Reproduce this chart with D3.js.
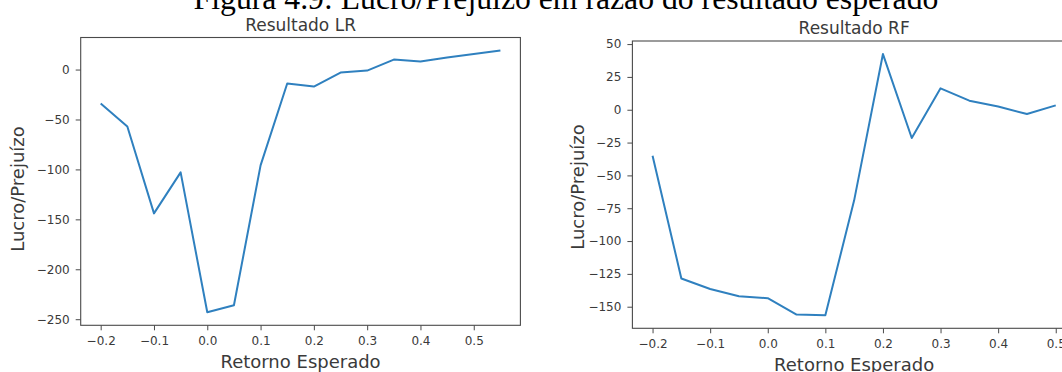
<!DOCTYPE html>
<html><head><meta charset="utf-8">
<script src="https://cdn.jsdelivr.net/npm/d3@7"></script>
<style>body{margin:0;background:#fff;} svg{display:block;}</style>
</head><body>
<svg id="c" width="1062" height="372"></svg>
<script>
// ---- data ----
const retornoLR = [-0.2,-0.15,-0.1,-0.05,0.0,0.05,0.1,0.15,0.2,0.25,0.3,0.35,0.4,0.45,0.5,0.55];
const lucroLR   = [-34,-57,-144,-103,-243,-236,-96,-14,-17,-3,-1,10,8,12,15.5,19];
const retornoRF = [-0.2,-0.15,-0.1,-0.05,0.0,0.05,0.1,0.15,0.2,0.25,0.3,0.35,0.4,0.45,0.5];
const lucroRF   = [-35,-128.5,-136.5,-142,-143.5,-156,-156.5,-69,42.4,-21.5,16.3,6.9,2.5,-3.3,3.3];
const xTickValues = [-0.2,-0.1,0.0,0.1,0.2,0.3,0.4,0.5];
const yTicksLR = [-250,-200,-150,-100,-50,0];
const yTicksRF = [-150,-125,-100,-75,-50,-25,0,25,50];
const figTitle = "Figura 4.9: Lucro/Prejuízo em razão do resultado esperado";
const panelTitles = ["Resultado LR","Resultado RF"];
const xLabel = "Retorno Esperado";
const yLabel = "Lucro/Prejuízo";

// ---- layout ----
const svg = d3.select("#c");
const FONT = "'DejaVu Sans', sans-serif";
const TXT = "#3a3a3a", SPINE = "#4a4a4a", LINE = "#2f80bf";

function padded(arr){
  const [a,b] = d3.extent(arr); const m = (b-a)*0.05; return [a-m, b+m];
}

function panel(xs, ys, yTicks, title, box, yLabelX, yLabelY){
  const x = d3.scaleLinear().domain(padded(xs)).range([box.x0, box.x1]);
  const y = d3.scaleLinear().domain(padded(ys)).range([box.y1, box.y0]);
  const g = svg.append("g");

  // x axis
  const ax = g.append("g").attr("transform",`translate(0,${box.y1})`)
    .call(d3.axisBottom(x).tickValues(xTickValues).tickSize(5).tickPadding(6.5).tickFormat(d3.format(".1f")));
  const ay = g.append("g").attr("transform",`translate(${box.x0},0)`)
    .call(d3.axisLeft(y).tickValues(yTicks).tickSize(5).tickPadding(6).tickFormat(d3.format("d")));
  [ax, ay].forEach(a=>{
    a.select(".domain").remove();
    a.selectAll(".tick line").attr("stroke",SPINE).attr("stroke-width",1);
    a.selectAll(".tick text").attr("fill",TXT).style("font-family",FONT).style("font-size","12px");
  });

  // frame
  g.append("rect").attr("x",box.x0).attr("y",box.y0)
    .attr("width",box.x1-box.x0).attr("height",box.y1-box.y0)
    .attr("fill","none").attr("stroke",SPINE).attr("stroke-width",1.1);

  // line
  const line = d3.line().x((d,i)=>x(xs[i])).y(d=>y(d));
  g.append("path").datum(ys).attr("d",line).attr("fill","none")
    .attr("stroke",LINE).attr("stroke-width",2).attr("stroke-linejoin","round");

  // title
  const cx = (box.x0+box.x1)/2;
  g.append("text").attr("x",cx).attr("y",box.y0-7).attr("text-anchor","middle")
    .attr("fill",TXT).style("font-family",FONT).style("font-size","17px").text(title);
  // x label
  g.append("text").attr("x",cx).attr("y",box.y1+43).attr("text-anchor","middle")
    .attr("fill",TXT).style("font-family",FONT).style("font-size","18px").text(xLabel);
  // y label
  g.append("text").attr("transform",`translate(${yLabelX},${yLabelY}) rotate(-90)`)
    .attr("text-anchor","middle").attr("fill",TXT)
    .style("font-family",FONT).style("font-size","18px").text(yLabel);
}

panel(retornoLR, lucroLR, yTicksLR, panelTitles[0], {x0:80.7, x1:520.4, y0:37.5, y1:325.3}, 24, 189);
panel(retornoRF, lucroRF, yTicksRF, panelTitles[1], {x0:632.4, x1:1075.9, y0:41, y1:328.3}, 584, 187);

// figure caption (clipped at top in the reference)
const cap = svg.append("text").attr("x",566).attr("y",8.5).attr("text-anchor","middle")
  .attr("fill","#000").style("font-family","'Liberation Serif', 'Times New Roman', serif")
  .style("font-size","26px").text(figTitle);
const w = cap.node().getComputedTextLength();
cap.style("font-size", (26*745/w).toFixed(2)+"px");
</script>
</body></html>
